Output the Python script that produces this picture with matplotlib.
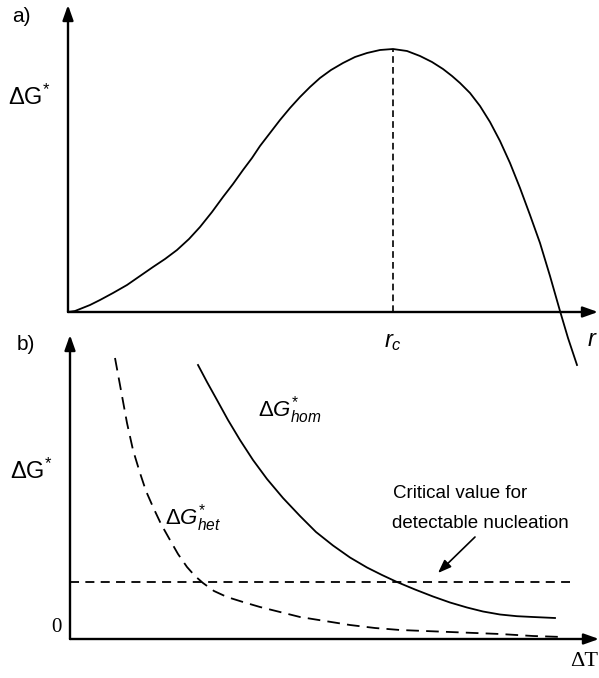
"""
    nucleation free energy sketch: a) dG vs r, b) dG* vs undercooling
"""
import matplotlib as mpl
mpl.use("Agg")
import matplotlib.pyplot as plt

plt.rcParams['font.family'] = ['Liberation Sans', 'DejaVu Sans']
plt.rcParams['mathtext.fontset'] = 'custom'
plt.rcParams['mathtext.rm'] = 'Liberation Sans'
plt.rcParams['mathtext.it'] = 'Liberation Sans:italic'

# panel a: free energy of a nucleus vs radius (arbitrary units)
r_vals = [0, 7, 12, 22, 32, 45, 59, 72, 85, 97, 109, 121, 132, 144, 155,
          165, 175, 184, 192, 202, 212, 222, 232, 242, 252, 263, 275, 287,
          299, 312, 325, 339, 352, 364, 375, 384, 392, 402, 412, 422, 432,
          442, 452, 462, 472, 482, 492, 500, 509]
dg_vals = [0, 1, 3, 7, 12, 19, 27, 36, 45, 53, 62, 73, 85, 100, 115,
           128, 142, 154, 166, 179, 192, 204, 215, 225, 234, 242, 249, 255,
           259, 262, 263, 261, 256, 250, 243, 236, 229, 219, 206, 190, 171,
           149, 124, 97, 69, 36, 1, -26, -53]
r_crit = 325
dg_crit = 263

# panel b: activation barrier vs undercooling (arbitrary units)
hom_dt = [128, 137, 147, 158, 170, 183, 197, 213, 230, 246, 263, 280, 297,
          312, 327, 345, 363, 380, 397, 413, 430, 447, 463, 485]
hom_dg = [274, 257, 239, 219, 199, 179, 160, 141, 123, 107, 93.5, 81.5,
          71.5, 64, 57, 49.5, 42.5, 36.5, 31.5, 27.5, 24.5, 22.8, 22, 21]
het_dt = [45, 50, 57, 63, 70, 76, 83, 91, 100, 108, 117, 125, 133, 144,
          157, 173, 190, 210, 230, 255, 280, 305, 330, 355, 380, 405, 430,
          463, 493]
het_dg = [281, 254, 216, 189, 166, 148, 132, 115, 99, 85, 72, 63, 56, 48,
          42, 37, 32, 27, 22, 18, 14, 11, 9, 8, 7, 6, 5, 3, 2]
crit_level = 57
crit_end = 500

W, H = 599, 678
fig = plt.figure(figsize=(W / 100, H / 100), dpi=100)


def fx(px):
    return px / W


def fy(py):
    return 1 - py / H


ax_a = fig.add_axes([fx(68), fy(312), 530 / W, 307 / H])
ax_a.set_xlim(0, 530)
ax_a.set_ylim(0, 307)
ax_b = fig.add_axes([fx(70), fy(639), 529 / W, 304 / H])
ax_b.set_xlim(0, 529)
ax_b.set_ylim(0, 304)

for ax in (ax_a, ax_b):
    ax.axis('off')
    arrow = dict(arrowstyle='-|>,head_length=0.9,head_width=0.32',
                 color='black', lw=1.7, shrinkA=0, shrinkB=0)
    ax.annotate('', xy=(1.0, 0), xytext=(0, 0), xycoords='axes fraction',
                arrowprops=arrow, annotation_clip=False)
    ax.annotate('', xy=(0, 1.0), xytext=(0, 0), xycoords='axes fraction',
                arrowprops=arrow, annotation_clip=False)

# a)
ax_a.plot(r_vals, dg_vals, color='black', lw=1.3, clip_on=False)
ax_a.plot([r_crit, r_crit], [0, dg_crit], color='black', lw=1.2,
          dashes=(4, 2.5))

# b)
ax_b.plot(hom_dt, hom_dg, color='black', lw=1.3, clip_on=False)
ax_b.plot(het_dt, het_dg, color='black', lw=1.3, dashes=(7, 4),
          clip_on=False)
ax_b.plot([0, crit_end], [crit_level, crit_level], color='black', lw=1.3,
          dashes=(5, 3.5))
ax_b.annotate('', xy=(368, 66), xytext=(405, 102),
              arrowprops=dict(arrowstyle='-|>,head_length=0.8,head_width=0.3',
                              color='black', lw=1.2, shrinkA=0, shrinkB=0))

# labels
fig.text(fx(12), fy(17), 'a)', fontsize=15, va='center', ha='left')
fig.text(fx(17), fy(345), 'b)', fontsize=15, va='center', ha='left')
fig.text(fx(8), fy(97), r'$\Delta\mathrm{G}^{*}$', fontsize=17,
         va='center', ha='left')
fig.text(fx(10), fy(471), r'$\Delta\mathrm{G}^{*}$', fontsize=17,
         va='center', ha='left')
fig.text(fx(393), fy(342), r'$r_c$', fontsize=17, va='center', ha='center')
fig.text(fx(592), fy(340), r'$r$', fontsize=17, va='center', ha='center')
fig.text(fx(258), fy(410), r'$\Delta G^{*}_{hom}$', fontsize=16,
         va='center', ha='left')
fig.text(fx(165), fy(518), r'$\Delta G^{*}_{het}$', fontsize=16,
         va='center', ha='left')
fig.text(fx(393), fy(493), 'Critical value for', fontsize=13.5,
         va='center', ha='left')
fig.text(fx(392), fy(523), 'detectable nucleation', fontsize=13.5,
         va='center', ha='left')
fig.text(fx(56), fy(628), '0', fontsize=15, va='center', ha='center',
         family=['Liberation Serif', 'DejaVu Serif'])
fig.text(fx(598), fy(662), '\u0394T', fontsize=16, va='center', ha='right',
         family=['Liberation Serif', 'DejaVu Serif'])

fig.savefig('out.png', dpi=100)
